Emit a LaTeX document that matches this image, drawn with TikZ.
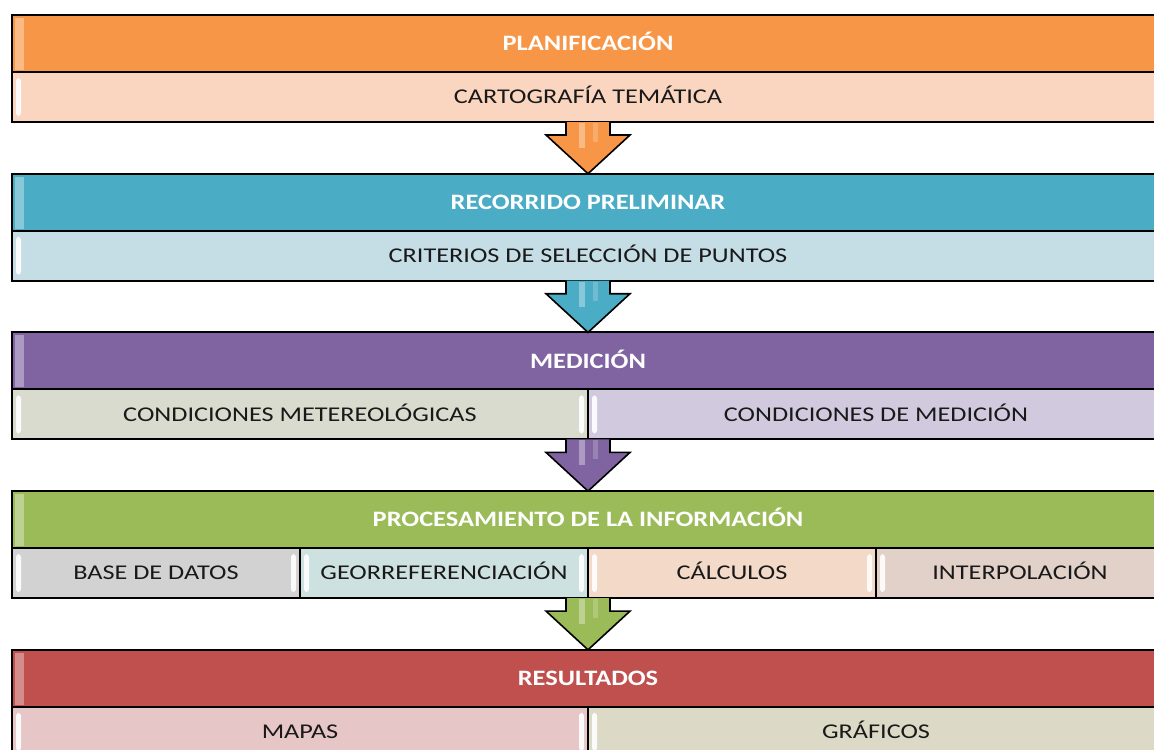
\documentclass[tikz,border=0pt]{standalone}
\usepackage{fontspec}
\setmainfont{Carlito}[FakeStretch=1.2]
\newfontfamily\subfuente{Carlito}[FakeStretch=1.25]
\usetikzlibrary{positioning, calc}

\definecolor{naranja}{HTML}{F79646}
\definecolor{naranjaclaro}{HTML}{FAD6C1}
\definecolor{azul}{HTML}{4BACC6}
\definecolor{azulclaro}{HTML}{C5DDE5}
\definecolor{morado}{HTML}{8064A2}
\definecolor{verdegris}{HTML}{D8DBCE}
\definecolor{moradoclaro}{HTML}{D1CADF}
\definecolor{verde}{HTML}{9BBB59}
\definecolor{gris}{HTML}{D2D2D2}
\definecolor{turquesa}{HTML}{CEE1E1}
\definecolor{melocoton}{HTML}{F3D9C7}
\definecolor{rosado}{HTML}{E2D1C9}
\definecolor{rojo}{HTML}{C0504D}
\definecolor{rojoclaro}{HTML}{E6C6C6}
\definecolor{beige}{HTML}{DCDAC6}

\tikzstyle{cabecera} = [rectangle, draw=black, line width=1pt, outer sep=0pt, inner sep=0pt, minimum width=576pt, minimum height=28.5pt, text height=9.1pt, text depth=2pt, text=white, font=\fontsize{11}{13}\selectfont\bfseries, path picture={\fill[white, opacity=.35] ([xshift=1.5pt,yshift=-1.5pt]path picture bounding box.north west) rectangle ([xshift=6pt,yshift=1pt]path picture bounding box.south west);}]
\tikzstyle{detalle} = [rectangle, draw=black, line width=1pt, outer sep=0pt, inner sep=0pt, minimum height=25pt, text height=8.8pt, text depth=2pt, text=black!90, font=\subfuente\fontsize{10.5}{12}\selectfont, path picture={
  \fill[white, opacity=.9, rounded corners=1.5pt] ([xshift=2pt,yshift=-3pt]path picture bounding box.north west) rectangle ([xshift=4.5pt,yshift=3pt]path picture bounding box.south west);
  \fill[white, opacity=.9, rounded corners=1.5pt] ([xshift=-2pt,yshift=-3pt]path picture bounding box.north east) rectangle ([xshift=-4.5pt,yshift=3pt]path picture bounding box.south east);}]
\tikzstyle{entero} = [minimum width=576pt]
\tikzstyle{medio} = [minimum width=288pt]
\tikzstyle{cuarto} = [minimum width=144pt]
\tikzstyle{flecha} = [draw=black, line width=0.8pt, line join=miter]

\begin{document}
\begin{tikzpicture}[x=0.5pt, y=-0.5pt, node distance=25.85pt]
\useasboundingbox (0,0) rectangle (1154,749);
\clip (0,0) rectangle (1154,749);

% planificacion
\node (plan) [cabecera, fill=naranja, anchor=north west] at (12,15) {PLANIFICACIÓN};
\node (cart) [detalle, entero, fill=naranjaclaro, below=0pt of plan] {CARTOGRAFÍA TEMÁTICA};

% recorrido
\node (reco) [cabecera, fill=azul, below=of cart] {RECORRIDO PRELIMINAR};
\node (crit) [detalle, entero, fill=azulclaro, below=0pt of reco] {CRITERIOS DE SELECCIÓN DE PUNTOS};

% medicion
\node (medi) [cabecera, fill=morado, below=of crit] {MEDICIÓN};
\node (condmet) [detalle, medio, fill=verdegris, below=0pt of medi.south west, anchor=north west] {CONDICIONES METEREOLÓGICAS};
\node (condmed) [detalle, medio, fill=moradoclaro, right=0pt of condmet] {CONDICIONES DE MEDICIÓN};

% procesamiento
\node (proc) [cabecera, fill=verde, below=of condmet.south east] {PROCESAMIENTO DE LA INFORMACIÓN};
\node (base) [detalle, cuarto, fill=gris, below=0pt of proc.south west, anchor=north west] {BASE DE DATOS};
\node (geo) [detalle, cuarto, fill=turquesa, right=0pt of base] {GEORREFERENCIACIÓN};
\node (calcu) [detalle, cuarto, fill=melocoton, right=0pt of geo] {CÁLCULOS};
\node (interp) [detalle, cuarto, fill=rosado, right=0pt of calcu] {INTERPOLACIÓN};

% resultados
\node (resu) [cabecera, fill=rojo, below=of geo.south east] {RESULTADOS};
\node (mapas) [detalle, medio, fill=rojoclaro, below=0pt of resu.south west, anchor=north west] {MAPAS};
\node (graf) [detalle, medio, fill=beige, right=0pt of mapas] {GRÁFICOS};

% flechas entre etapas
\foreach \desde/\hasta/\col in {cart.south/reco/naranja, crit.south/medi/azul, condmet.south east/proc/morado, geo.south east/resu/verde} {
  \fill[\col] ($(\desde)+(-22,0)$) -- ($(\desde)+(-22,13)$) -- ($(\desde)+(-42,13)$) -- (\hasta.north) -- ($(\desde)+(42,13)$) -- ($(\desde)+(22,13)$) -- ($(\desde)+(22,0)$) -- cycle;
  \fill[white, opacity=.35] ($(\desde)+(-9,1)$) rectangle ($(\desde)+(-3,26)$);
  \fill[white, opacity=.2] ($(\desde)+(5,1)$) rectangle ($(\desde)+(10,20)$);
  \draw[flecha] ($(\desde)+(-22,0)$) -- ($(\desde)+(-22,13)$) -- ($(\desde)+(-42,13)$) -- (\hasta.north) -- ($(\desde)+(42,13)$) -- ($(\desde)+(22,13)$) -- ($(\desde)+(22,0)$);
}

\end{tikzpicture}
\end{document}
